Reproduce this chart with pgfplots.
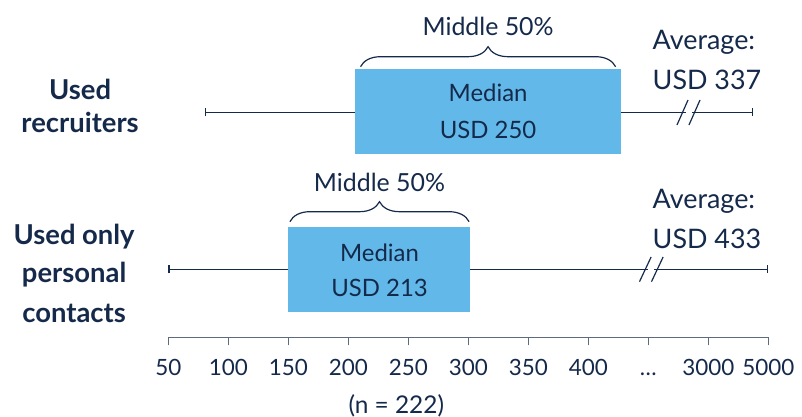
\documentclass[border=0pt]{standalone}
\usepackage{fontspec}
\setmainfont{Lato}
\usepackage{pgfplots}
\pgfplotsset{compat=1.18}
\usetikzlibrary{decorations.pathreplacing,arrows.meta}
\definecolor{navy}{HTML}{15294A}
\definecolor{boxblue}{HTML}{62B9E9}
\definecolor{axisgray}{HTML}{5F6B7D}
\newcommand{\fs}[1]{\fontsize{#1}{#1}\selectfont}

\begin{document}
\begin{tikzpicture}
\path[use as bounding box] (0,0) rectangle (802bp,417bp);
\begin{axis}[
    at={(168.3bp,79.7bp)}, anchor=south west,
    scale only axis, width=600bp, height=337.3bp,
    xmin=0, xmax=10, ymin=0, ymax=337.3,
    axis x line=bottom, axis y line=none,
    axis line style={-, draw=axisgray, line width=1.5pt},
    xtick={0,...,10},
    xticklabels={50,100,150,200,250,300,350,400,\ldots,3000,5000},
    tick align=outside, major tick length=8bp,
    xtick style={draw=axisgray, line width=1pt},
    xticklabel style={font=\fs{22.5}, text=navy, anchor=base, yshift=-30.4bp},
    clip=false,
    ]
% x is the tick position (0 = 50, 7 = 400, 9 = 3000, 10 = 5000), y in bp above the axis line
% used recruiters
\addplot[navy, line width=1.3pt, {Bar[width=8bp]}-{Bar[width=8bp]}]
coordinates {(0.61,225) (9.75,225)};
\addplot[fill=boxblue, draw=none]
coordinates {(3.11,183.3) (7.55,183.3) (7.55,268) (3.11,268)} --cycle;
\addplot[white, line width=3pt] coordinates {(8.62,225) (8.72,225)};
\addplot[navy, line width=1.2pt] coordinates {(8.478,212.3) (8.662,237.3)};
\addplot[navy, line width=1.2pt] coordinates {(8.678,212.3) (8.862,237.3)};
% used only personal contacts
\addplot[navy, line width=1.3pt, {Bar[width=8bp]}-{Bar[width=8bp]}]
coordinates {(0,68) (10,68)};
\addplot[fill=boxblue, draw=none]
coordinates {(2.0,25.6) (5.03,25.6) (5.03,110.6) (2.0,110.6)} --cycle;
\addplot[white, line width=3pt] coordinates {(8.0,68) (8.1,68)};
\addplot[navy, line width=1.2pt] coordinates {(7.853,55.6) (8.047,80.3)};
\addplot[navy, line width=1.2pt] coordinates {(8.053,55.6) (8.247,80.3)};

% braces
\draw[navy, line width=1.2pt, decorate, decoration={brace, amplitude=20bp}]
  (axis cs:3.204,270.6) -- (axis cs:7.455,270.6);
\draw[navy, line width=1.2pt, decorate, decoration={brace, amplitude=20bp}]
  (axis cs:2.027,115.6) -- (axis cs:5.013,115.6);

\begin{scope}[every node/.style={text=navy, anchor=base, inner sep=0pt}]
\node[font=\fs{25}] at (axis cs:5.33,301.3) {Middle 50\%};
\node[font=\fs{24}] at (axis cs:5.33,235.6) {Median};
\node[font=\fs{24}] at (axis cs:5.33,199) {USD 250};
\node[font=\fs{27}, anchor=base west] at (axis cs:8.07,287.3) {Average:};
\node[font=\fs{27}, anchor=base west] at (axis cs:8.07,247.3) {USD 337};
\node[font=\fs{25}] at (axis cs:3.52,145.6) {Middle 50\%};
\node[font=\fs{24}] at (axis cs:3.52,75.6) {Median};
\node[font=\fs{24}] at (axis cs:3.52,40.6) {USD 213};
\node[font=\fs{27}, anchor=base west] at (axis cs:8.07,129) {Average:};
\node[font=\fs{27}, anchor=base west] at (axis cs:8.07,88.3) {USD 433};
\node[font=\bfseries\fs{27.5}] at (axis cs:-1.47,237.3) {Used};
\node[font=\bfseries\fs{27.5}] at (axis cs:-1.47,204.6) {recruiters};
\node[font=\bfseries\fs{27.5}] at (axis cs:-1.57,92.3) {Used only};
\node[font=\bfseries\fs{27.5}] at (axis cs:-1.57,54.3) {personal};
\node[font=\bfseries\fs{27.5}] at (axis cs:-1.57,14.3) {contacts};
\node[font=\fs{24.5}] at (axis cs:3.80,-75.7) {(n = 222)};
\end{scope}
\end{axis}
\end{tikzpicture}
\end{document}
